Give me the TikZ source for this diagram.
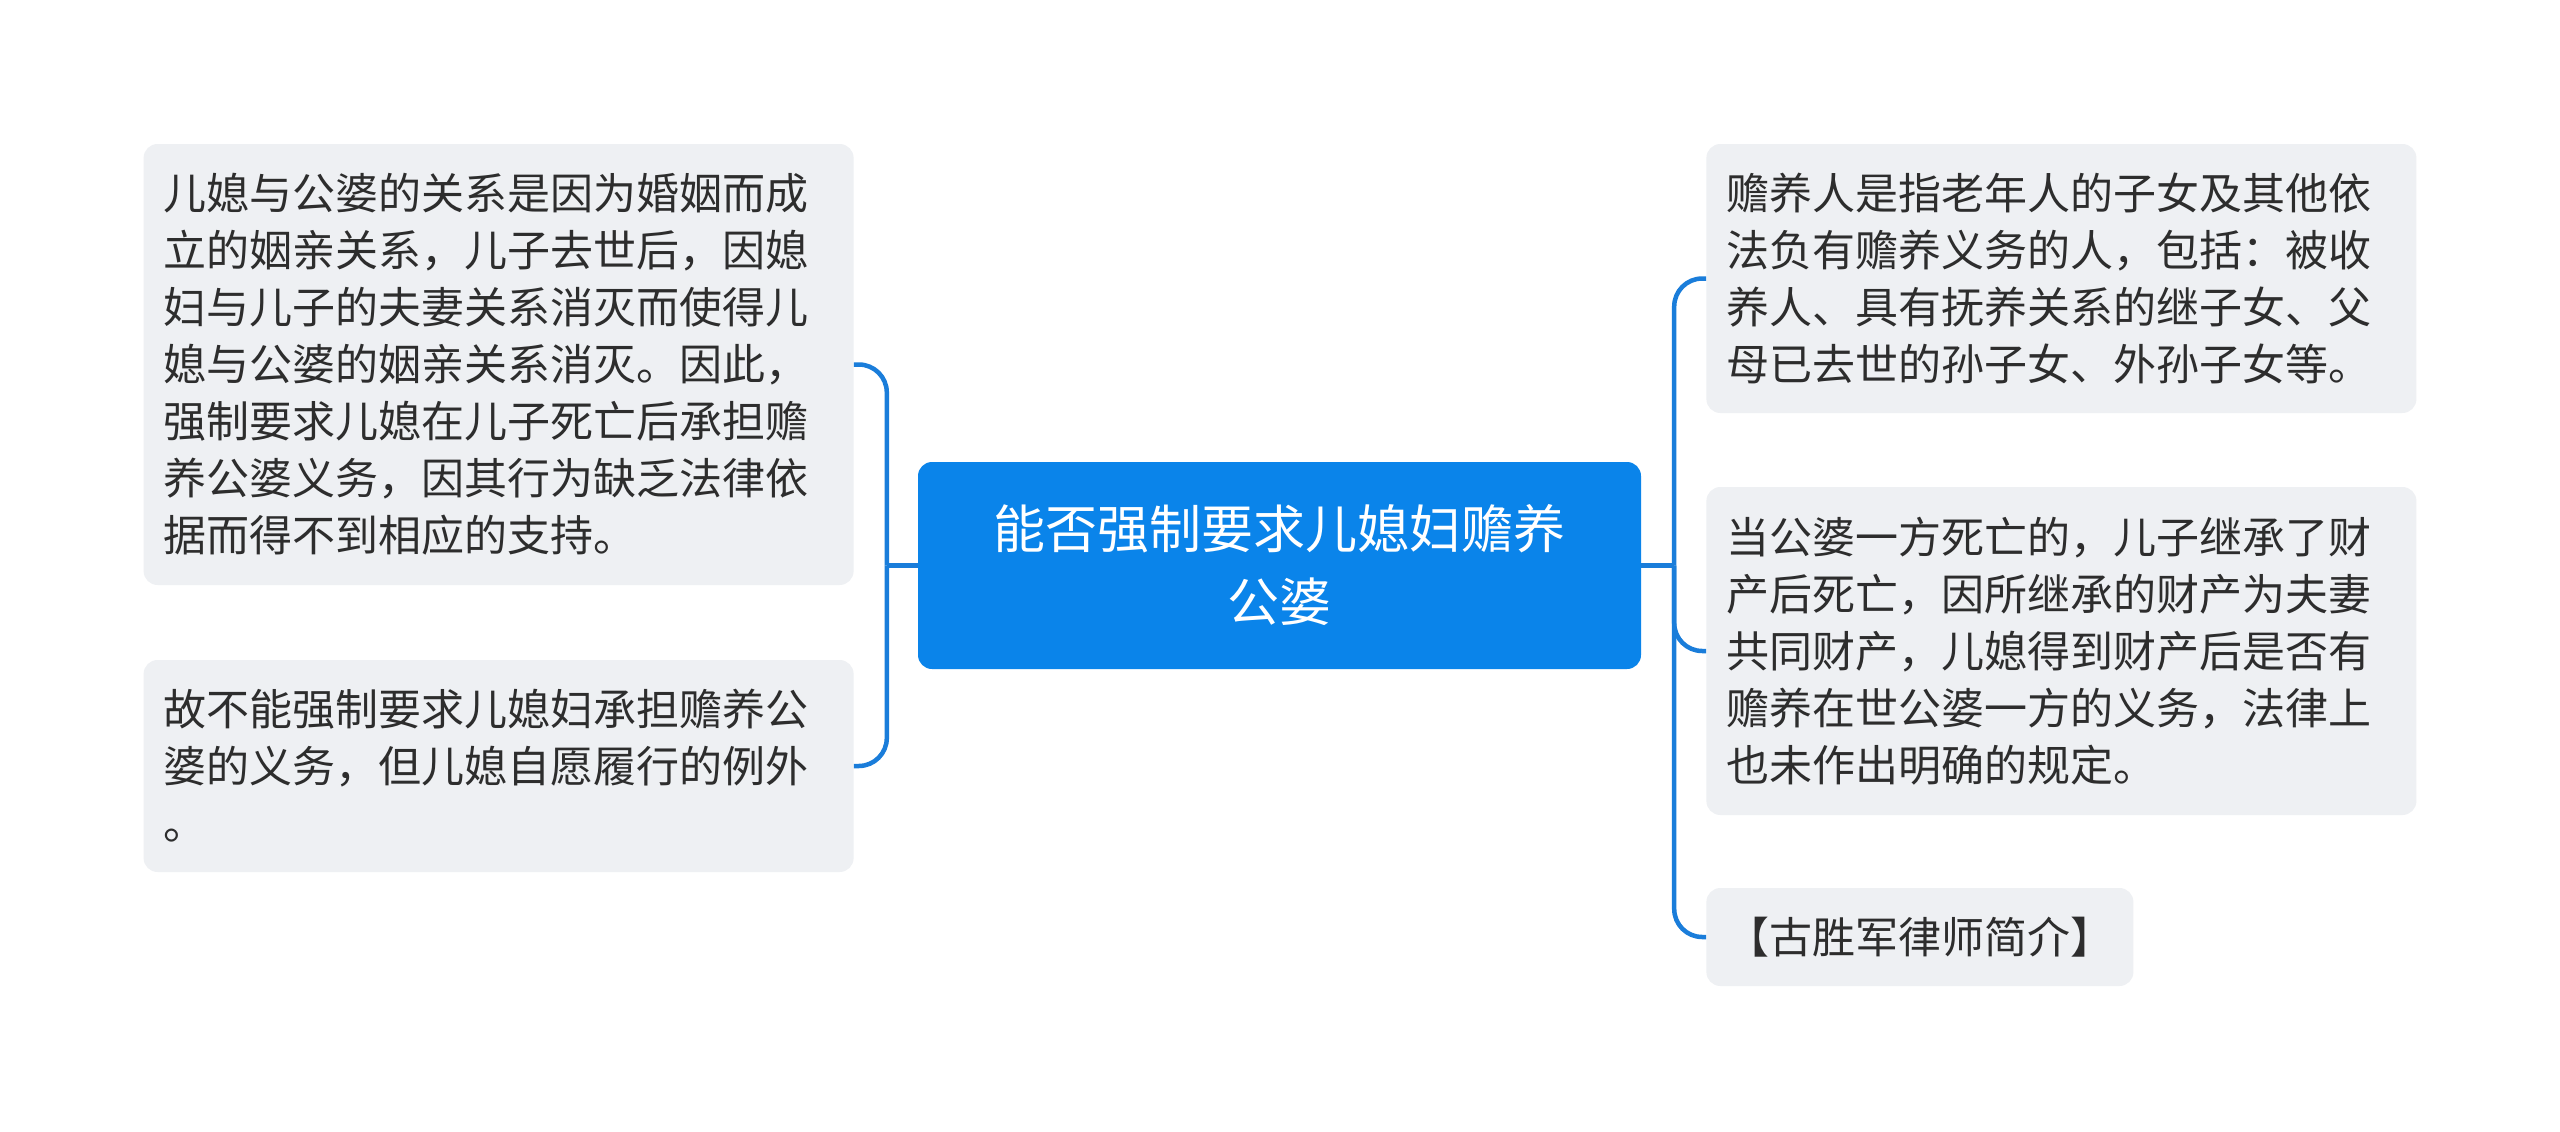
\documentclass[tikz,border=0pt]{standalone}
\usepackage{fontspec}
\setmainfont{Noto Sans CJK SC}
\usepackage{xcolor}
\usepackage{tikz}
\usetikzlibrary{positioning}

\definecolor{titleblue}{RGB}{10,132,234}
\definecolor{linkblue}{RGB}{26,125,218}
\definecolor{leafgray}{RGB}{238,240,243}
\definecolor{textgray}{RGB}{45,45,45}

\newcommand\leaffont{\fontsize{43pt}{57pt}\selectfont}
\newcommand\titlefont{\fontsize{52pt}{73pt}\selectfont}

\begin{document}
\begin{tikzpicture}[
    x=1pt, y=1pt,
    title/.style={rectangle, fill=titleblue, text=white, font=\titlefont, align=center, rounded corners=14pt, minimum width=723pt, minimum height=207pt},
    leaf/.style={rectangle, fill=leafgray, text=textgray, font=\leaffont, rounded corners=14pt, inner xsep=20pt, inner ysep=0pt},
    para/.style={leaf, text width=670pt, align=left},
    link/.style={draw=linkblue, line width=4.5pt, rounded corners=28pt}
]

% canvas
\useasboundingbox [fill=white] (0,0) rectangle (2560,-1132);

% Title
\node [title] (title) at (1279.5,-565.5) {能否强制要求儿媳妇赡养\\公婆};

% Left branches
\node [para, minimum height=441pt, left=64pt of title, yshift=201pt] (l1) {儿媳与公婆的关系是因为婚姻而成\\立的姻亲关系，儿子去世后，因媳\\妇与儿子的夫妻关系消灭而使得儿\\媳与公婆的姻亲关系消灭。因此，\\强制要求儿媳在儿子死亡后承担赡\\养公婆义务，因其行为缺乏法律依\\据而得不到相应的支持。};
\node [para, minimum height=212pt, left=64pt of title, yshift=-200.5pt] (l2) {故不能强制要求儿媳妇承担赡养公\\婆的义务，但儿媳自愿履行的例外\\。};

% Right branches
\node [para, minimum height=269pt, right=65pt of title, yshift=287pt] (r1) {赡养人是指老年人的子女及其他依\\法负有赡养义务的人，包括：被收\\养人、具有抚养关系的继子女、父\\母已去世的孙子女、外孙子女等。};
\node [para, minimum height=328pt, right=65pt of title, yshift=-85.5pt] (r2) {当公婆一方死亡的，儿子继承了财\\产后死亡，因所继承的财产为夫妻\\共同财产，儿媳得到财产后是否有\\赡养在世公婆一方的义务，法律上\\也未作出明确的规定。};
\node [leaf, minimum height=98pt, right=65pt of title, yshift=-371.5pt] (r3) {【古胜军律师简介】};

% Connectors
\coordinate (lbus) at ([xshift=-31pt] title.west);
\coordinate (rbus) at ([xshift=33pt] title.east);

\draw [link] (title.west) -- (lbus);
\draw [link] (lbus) |- (l1.east);
\draw [link] (lbus) |- (l2.east);

\draw [link] (title.east) -- (rbus);
\draw [link] (rbus) |- (r1.west);
\draw [link] (rbus) |- (r2.west);
\draw [link] (rbus) |- (r3.west);

\end{tikzpicture}
\end{document}
